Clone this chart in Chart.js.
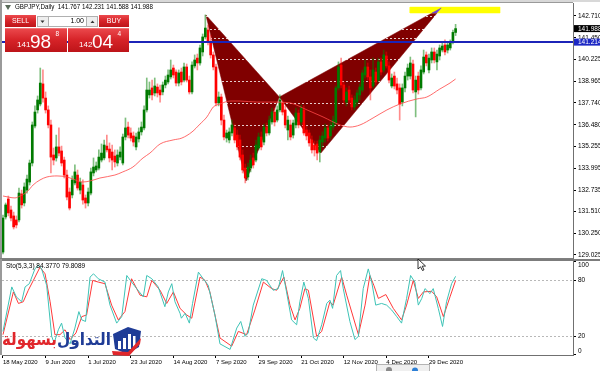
<!DOCTYPE html>
<html><head><meta charset="utf-8">
<script src="https://cdn.jsdelivr.net/npm/chart.js@4.4.1/dist/chart.umd.min.js"></script>
<style>
html,body{margin:0;padding:0;background:#fff;}
body{width:600px;height:371px;position:relative;overflow:hidden;}
canvas{position:absolute;left:0;}
#main{top:0;} #stoch{top:259px;}
</style></head><body>
<canvas id="main" width="600" height="259"></canvas>
<canvas id="stoch" width="600" height="112"></canvas>
<script>
// ---------------- DATA ----------------
const symbolTitle = 'GBPJPY,Daily';
const dateIdx = [0,16,32,48,64,80,96,112,128,144,160];
const dateLabels = ['18 May 2020','9 Jun 2020','1 Jul 2020','23 Jul 2020','14 Aug 2020','7 Sep 2020','29 Sep 2020','21 Oct 2020','12 Nov 2020','4 Dec 2020','29 Dec 2020'];
const priceTicks = [142.710,141.450,140.225,138.965,137.740,136.480,135.255,133.995,132.735,131.510,130.250,129.025];
const stochTicks = [0,20,80,100];
const stochLevels = [20,80];
const lineLevel = 141.214;
const askPrice = 142.044;

const opens = [
129.19,131.20,132.23,131.60,131.26,131.03,131.03,132.52,132.00,132.74,
133.20,134.29,136.41,137.33,137.67,138.82,138.01,137.33,136.47,134.75,
134.58,135.21,134.98,134.46,133.60,132.63,132.46,133.15,133.60,132.74,
133.03,132.29,132.00,132.57,133.72,133.89,134.00,134.46,134.58,135.26,
135.09,134.92,134.69,134.29,134.63,134.29,135.78,136.35,136.01,135.84,
135.21,135.67,136.07,136.30,137.33,138.19,138.59,138.30,138.64,138.47,
138.36,138.76,138.93,139.22,139.73,139.50,138.87,139.50,139.04,139.79,
139.04,138.36,139.85,140.30,140.02,140.65,141.51,141.91,141.22,140.48,
139.79,137.73,138.07,136.75,135.72,135.61,136.01,136.30,135.89,135.61,
134.75,134.00,133.49,134.00,134.58,134.46,135.15,135.78,135.49,136.35,
136.01,136.64,137.21,136.75,137.33,137.73,137.33,136.18,136.47,135.89,
136.47,137.15,136.64,137.33,136.18,136.01,135.61,135.32,135.38,134.92,
135.49,135.72,136.30,135.84,136.35,136.58,138.59,139.90,138.76,137.78,
138.47,138.01,137.50,137.78,138.19,138.47,139.33,139.79,139.22,138.70,
139.50,139.04,140.08,139.62,140.42,139.85,138.70,139.27,138.82,138.59,
137.78,138.59,139.27,139.27,139.96,138.36,139.27,138.59,139.50,140.48,
139.62,140.19,140.65,140.08,140.42,140.76,141.05,140.76,140.88,141.22,
141.767];
const highs = [
131.31,132.00,132.40,131.83,131.48,131.26,132.86,132.74,133.15,133.60,
134.46,136.64,137.56,138.13,139.73,139.62,138.36,137.56,136.75,135.15,
135.89,136.30,135.26,134.63,133.89,132.86,133.55,134.18,133.89,133.43,
133.32,132.46,132.86,134.00,134.58,134.35,135.04,135.38,135.61,135.89,
135.44,135.32,135.04,135.04,135.21,135.95,136.87,136.64,136.30,136.07,
136.01,136.30,136.64,137.56,139.16,138.93,139.04,139.16,138.82,138.76,
138.93,139.27,139.62,140.19,139.90,139.62,139.62,139.73,140.02,139.96,
139.27,140.08,140.48,140.53,141.05,141.68,142.77,142.19,141.62,140.65,
139.96,138.36,138.24,137.04,136.18,136.30,136.75,136.52,136.18,135.89,
135.04,134.23,134.29,134.75,134.86,135.61,136.01,136.07,136.52,136.58,
136.98,137.44,137.44,137.56,138.19,137.90,137.56,136.98,136.75,136.75,
137.44,137.33,137.61,137.56,136.41,136.18,135.84,135.55,135.55,135.84,
136.07,136.52,136.47,136.64,136.98,138.70,140.08,140.30,138.93,138.59,
138.70,138.19,138.13,138.47,138.82,139.62,140.19,140.02,139.62,140.30,
139.73,140.30,140.30,140.76,140.65,140.08,139.39,139.50,139.16,138.82,
138.82,139.50,139.96,140.36,140.19,139.27,139.50,139.85,140.76,140.65,
140.53,140.88,140.88,140.76,141.05,141.22,141.34,141.16,141.34,141.91,
142.231];
const lows = [
129.08,131.08,131.26,130.97,130.51,130.57,130.91,131.71,131.83,132.57,
133.03,134.12,136.30,137.15,137.56,137.78,137.15,136.30,133.72,134.18,
134.40,134.69,134.12,133.43,132.17,131.60,132.29,133.03,132.74,132.52,
131.94,131.71,131.83,132.46,133.55,133.78,133.89,134.35,134.46,134.92,
134.35,133.89,134.06,134.12,134.46,134.18,135.61,135.72,135.55,135.26,
135.04,135.49,135.89,136.18,137.21,138.01,137.90,138.13,138.07,137.78,
138.19,138.59,138.82,139.10,139.16,138.70,138.70,138.76,138.93,138.93,
138.24,138.24,139.73,139.62,139.90,140.42,141.39,141.05,140.30,139.62,
137.56,137.56,136.47,135.61,135.49,135.44,135.84,135.44,135.04,134.46,
133.72,133.15,133.32,133.78,134.00,134.35,135.04,135.04,135.32,135.84,
135.89,136.52,136.41,136.64,137.21,137.04,136.30,135.61,135.61,135.72,
136.30,136.30,136.47,135.89,135.61,135.26,134.86,134.69,134.46,134.35,
135.21,135.49,135.55,135.67,136.18,136.47,138.47,138.59,137.67,137.56,
137.73,137.33,137.33,137.56,137.90,138.36,139.16,139.04,137.90,138.59,
138.76,138.93,139.33,139.50,139.73,138.87,138.59,138.53,138.24,136.75,
137.56,138.36,139.04,139.10,138.30,136.93,138.24,138.47,139.39,139.85,
139.45,140.02,140.02,139.62,140.19,140.65,140.48,140.59,140.76,141.11,
141.588];
const closes = [
131.14,131.89,131.43,131.14,130.63,130.74,132.57,131.89,132.92,133.37,
134.29,136.47,137.21,137.90,138.87,138.01,137.33,136.47,134.63,134.46,
135.21,134.86,134.29,133.60,132.34,131.71,133.32,133.78,132.86,133.20,
132.17,132.00,132.63,133.78,134.06,134.12,134.63,134.86,135.32,135.04,
134.58,134.46,134.35,134.75,134.92,135.78,136.30,135.89,135.72,135.49,
135.78,136.07,136.35,137.33,138.47,138.47,138.19,138.70,138.30,138.19,
138.76,139.04,139.33,139.62,139.33,138.87,139.45,138.93,139.79,139.04,
138.36,139.90,140.19,140.02,140.88,141.51,142.02,141.22,140.48,139.79,
137.73,138.07,136.75,135.78,136.01,136.07,136.47,135.61,135.21,134.63,
133.89,133.43,134.06,134.46,134.18,135.32,135.78,135.21,136.35,136.01,
136.75,137.21,136.64,137.33,137.90,137.21,136.47,136.75,135.78,136.58,
137.15,136.47,137.44,136.01,135.84,135.44,135.04,135.04,134.86,135.61,
135.84,136.30,135.72,136.41,136.75,138.59,139.79,138.76,137.90,138.36,
137.90,137.50,137.90,138.30,138.64,139.45,139.79,139.22,138.59,139.62,
138.93,140.08,139.50,140.48,139.85,139.04,139.16,138.70,138.47,137.67,
138.59,139.27,139.73,140.02,138.47,139.04,138.47,139.62,140.36,140.02,
140.30,140.65,140.19,140.53,140.88,140.99,140.65,141.05,141.22,141.77,
141.988];

// moving average (read at sample bars)
const maIdx = [0,4.5,6.4,9,11.3,13.9,16.5,20.3,24,26.3,29.7,32.7,36.4,42,45,48.8,52.6,55.2,59,63.9,67.2,71,74,76.6,79,81.5,85.3,89,95.4,101.4,107.8,114.2,120.2,126.6,130.3,134.1,139,144.2,149.1,155.5,159.2,164.1,167.9,170];
const maVal = [132.40,132.29,132.40,132.63,133.03,133.32,133.49,133.55,133.49,133.37,133.20,133.26,133.43,133.60,133.78,134.06,134.58,134.86,135.38,135.61,135.72,136.07,136.52,136.93,137.50,137.67,137.84,137.84,137.78,137.78,137.73,137.33,136.93,136.47,136.35,136.47,136.87,137.33,137.67,137.96,138.07,138.53,138.87,139.10];

// harmonic pattern X A B C D
const patternIdx = [76.2,91.3,103.8,119.4,164.6];
const patternPrice = [142.77,133.26,138.07,134.86,143.17];
const tipIdx = [161.1,162.9,164.6];
const tipPrice = [142.88,142.88,143.17];
const rectIdx = [152.9,186.7];
const rectPrice = [142.88,143.22];

// stochastic (5,3,3)
const kIdx = [0,3.3,5,7,8.3,9.9,12,13.3,14.5,16.4,18.3,19.2,20.8,22,23.3,25.2,27,28.5,29.6,31,32.7,34,35.8,38.3,40.2,42.7,44.6,46.5,48.3,50.2,52.7,54,55.9,58.3,60.8,62.1,63.4,64.6,66.5,67,68.4,70,71.2,73.4,75.2,77.1,79.6,81.5,85.3,87.8,89.3,90.9,92.1,94,97.2,99,101.5,103.4,105,106.5,108.4,110.3,111.5,113,114.7,116.6,117.8,119.7,121.6,122.8,123.8,125.3,126.8,127.8,130.3,132.2,133.5,135.3,137.2,138.5,140,142.2,144.1,146,147.9,149.7,151.6,153.1,154.7,156,157.3,158.5,160.4,161.6,163.5,165.1,166.6,168.5,170];
const kVal = [25.1,73,62.3,57,73,76.5,92.4,96.6,92.4,74.7,19.8,12.7,26.9,34,18,11.7,28.7,46.4,37.5,35.8,83.6,87.1,81.8,78.2,53.4,34,41,85.3,78.2,71.2,62.3,85.3,81.8,73,51.7,67.6,76.5,57,44.6,39.3,44.6,34,55.2,88.9,81.8,74.7,42.8,11.7,5.7,28.7,35.8,19.8,23.4,53.4,81.8,80,69.4,71.2,90.6,67.6,37.5,32.2,57,78.2,60.6,18,15.2,32.2,55.2,58.8,49.9,85.3,90.6,71.2,35.8,16.3,19.8,71.2,92.4,78.2,53.4,55.2,53.4,48.1,41,34,60.6,85.3,78.2,53.4,60.6,71.2,65.8,71.2,49.9,30.4,57,76.5,84.377];
const dIdx = [0,3.9,5.8,7.6,9.5,11.4,13.9,15.8,17.7,19.5,21.4,23.3,25.2,27.4,29.6,31.4,33.7,35.8,38.3,40.8,43.3,45.8,48.3,51.5,54,55.9,59,61.5,64,66.5,69,70.9,74,75.9,77.7,81.5,85.9,88.4,91.5,94.6,97.8,100.9,102.8,105.5,107.8,109.7,111.5,113.4,114.7,117.8,119.7,122.8,124,127.2,129.1,133.5,136,137.8,139.3,141,143.8,146.6,149.7,151.6,154.1,156,157.9,161,162.9,165.4,167.9,170];
const dVal = [21.6,67.6,55.2,57,69.4,80,94.2,87.1,57,21.6,21.6,26.9,16.3,23.4,41,42.8,80,78.2,76.5,53.4,37.5,46.4,81.8,64.1,62.3,80,69.4,55.2,67.6,49.9,42.8,39.3,83.6,80,67.6,18,9.2,25.1,21.6,48.1,78.2,71.2,69.4,83.6,53.4,37.5,49.9,71.2,69.4,19.8,25.1,57,53.4,83.6,64.1,21.6,53.4,85.3,74.7,60.6,64.8,49.9,37.5,53.4,80,60.6,67.6,68.3,62.3,41,62.3,79.8089];

// ---------------- BUILD ----------------
const FONT = '"Liberation Sans", Arial, sans-serif';
Chart.defaults.font.family = FONT;
Chart.defaults.animation = false;
const X_MIN = -0.375, X_MAX = 214.1;

const pt = (x, y) => ({x, y});
const bullBody = [], bearBody = [], bullWick = [], bearWick = [];
closes.forEach((c, i) => {
  const up = c >= opens[i];
  (up ? bullBody : bearBody).push({x: i, y: [opens[i], c]});
  (up ? bullWick : bearWick).push({x: i, y: [lows[i], highs[i]]});
});
const tri1 = [0,1,2,0].map(k => pt(patternIdx[k], patternPrice[k]));
const tri2 = [2,3,4,2].map(k => pt(patternIdx[k], patternPrice[k]));
const tip = [0,1,2,0].map(k => pt(tipIdx[k], tipPrice[k]));
const rect = [[0,0],[1,0],[1,1],[0,1],[0,0]].map(([a,b]) => pt(rectIdx[a], rectPrice[b]));
const maData = maIdx.map((x, k) => pt(x, maVal[k]));
const blueLine = [pt(X_MIN, lineLevel), pt(X_MAX, lineLevel)];
const bid = closes[closes.length - 1];

const shape = (data, color, order) => ({type: 'line', data, backgroundColor: color, borderColor: color,
  borderWidth: 0.5, fill: 'shape', pointRadius: 0, order, tension: 0});
const bars = (data, color, thick, order) => ({type: 'bar', data, backgroundColor: color, borderWidth: 0,
  barThickness: thick, grouped: false, minBarLength: 1, order});

function redGrad(ctx, y0, y1) {
  const g = ctx.createLinearGradient(0, y0, 0, y1);
  g.addColorStop(0, '#ec4a4e'); g.addColorStop(0.5, '#d62328'); g.addColorStop(1, '#bd1419');
  return g;
}

const mainDecor = {
  id: 'mainDecor',
  afterDatasetDraw(chart, args) {
    if (args.index !== 3) return;
    const {ctx, chartArea: a, scales: {y}} = chart;
    ctx.save();
    ctx.beginPath(); ctx.rect(a.left, a.top, a.right - a.left, a.bottom - a.top); ctx.clip();
    ctx.strokeStyle = 'rgba(255,255,255,0.8)'; ctx.lineWidth = 1; ctx.setLineDash([2, 2]);
    [...priceTicks, bid].forEach(v => {
      const py = Math.round(y.getPixelForValue(v)) + 0.5;
      ctx.beginPath(); ctx.moveTo(a.left, py); ctx.lineTo(a.right, py); ctx.stroke();
    });
    ctx.restore();
  },
  afterDraw(chart) {
    const {ctx, chartArea: a, scales: {y}} = chart;
    ctx.save();
    // window frame
    ctx.fillStyle = '#d8d8d8'; ctx.fillRect(0, 0, 600, 2);
    ctx.fillStyle = '#9a9a9a'; ctx.fillRect(0, 2, a.right, 1); ctx.fillRect(0, 0, 2, 259);
    ctx.fillStyle = '#808080'; ctx.fillRect(0, a.bottom, a.right, 1);
    // price boxes on axis
    const box = (v, bg) => {
      const py = y.getPixelForValue(v);
      ctx.fillStyle = bg; ctx.fillRect(a.right + 1, py - 3.5, 600 - a.right - 1, 7);
      ctx.fillStyle = '#fff'; ctx.font = '6.5px ' + FONT; ctx.textAlign = 'left'; ctx.textBaseline = 'middle';
      ctx.fillText(v.toFixed(3), a.right + 5, py + 0.3);
    };
    box(bid, '#000');
    box(lineLevel, '#1c28c4');
    // header
    ctx.fillStyle = '#5a6b5a';
    ctx.beginPath(); ctx.moveTo(5, 5); ctx.lineTo(11, 5); ctx.lineTo(8, 10); ctx.closePath(); ctx.fill();
    ctx.fillStyle = '#000'; ctx.font = '6.5px ' + FONT; ctx.textAlign = 'left'; ctx.textBaseline = 'middle';
    const hdr = symbolTitle + '  ' + [opens, highs, lows, closes].map(s => s[s.length - 1].toFixed(3)).join(' ');
    ctx.fillText(hdr, 15, 7.5, 138);
    // one-click trading panel
    ctx.fillStyle = redGrad(ctx, 15, 27); ctx.fillRect(5, 15, 31, 12); ctx.fillRect(99, 15, 30, 12);
    ctx.fillStyle = redGrad(ctx, 28, 52); ctx.fillRect(5, 28, 62, 24); ctx.fillRect(68, 28, 61, 24);
    ctx.fillStyle = 'rgba(255,255,255,0.25)'; ctx.fillRect(5, 28, 62, 1); ctx.fillRect(68, 28, 61, 1);
    ctx.fillStyle = '#eeeeee'; ctx.fillRect(37, 16, 11, 11); ctx.fillRect(87, 16, 11, 11);
    ctx.fillStyle = '#fff'; ctx.fillRect(48, 16, 39, 11);
    ctx.strokeStyle = '#b0b0b0'; ctx.lineWidth = 1; ctx.strokeRect(37.5, 16.5, 60, 10);
    ctx.beginPath(); ctx.moveTo(48.5, 16.5); ctx.lineTo(48.5, 26.5); ctx.moveTo(86.5, 16.5); ctx.lineTo(86.5, 26.5); ctx.stroke();
    ctx.fillStyle = '#333';
    ctx.beginPath(); ctx.moveTo(40.5, 20.5); ctx.lineTo(44.5, 20.5); ctx.lineTo(42.5, 23); ctx.closePath(); ctx.fill();
    ctx.beginPath(); ctx.moveTo(90.5, 23); ctx.lineTo(94.5, 23); ctx.lineTo(92.5, 20.5); ctx.closePath(); ctx.fill();
    ctx.font = '7px ' + FONT; ctx.textAlign = 'center'; ctx.fillStyle = '#fff';
    ctx.fillText('SELL', 20.5, 21.5); ctx.fillText('BUY', 114, 21.5);
    ctx.fillStyle = '#000'; ctx.textAlign = 'right'; ctx.fillText('1.00', 84, 21.5);
    const bigPrice = (v, x0) => {
      const s = v.toFixed(3); const [ip, dp] = s.split('.');
      ctx.fillStyle = '#fff'; ctx.textAlign = 'left'; ctx.textBaseline = 'alphabetic';
      ctx.font = '8px ' + FONT; ctx.fillText(ip, x0, 47);
      ctx.font = '19px ' + FONT; ctx.fillText(dp.slice(0, 2), x0 + 13, 48);
      ctx.font = '6.5px ' + FONT; ctx.fillText(dp.slice(2), x0 + 38.5, 36);
    };
    bigPrice(bid, 17);
    bigPrice(askPrice, 79);
    ctx.restore();
  }
};

new Chart(document.getElementById('main'), {
  type: 'bar',
  data: {datasets: [
    shape(tri1, '#800000', 20),
    shape(tri2, '#800000', 19),
    shape(rect, '#ffff00', 18),
    shape(tip, '#6a40d8', 17),
    bars(bullWick, 'rgba(0,128,0,0.5)', 1, 10),
    bars(bearWick, 'rgba(255,0,0,0.45)', 1, 10),
    bars(bullBody, '#007a00', 2, 9),
    bars(bearBody, '#ff0000', 2, 9),
    {type: 'line', data: maData, borderColor: 'rgba(255,70,70,0.8)', borderWidth: 1, pointRadius: 0,
     fill: false, cubicInterpolationMode: 'monotone', order: 5},
    {type: 'line', data: blueLine, borderColor: '#1c24b8', borderWidth: 2, pointRadius: 0, fill: false, order: 1}
  ]},
  options: {
    responsive: false, maintainAspectRatio: false, devicePixelRatio: 1, events: [],
    layout: {padding: {left: 2, top: 3, right: 0, bottom: 1}},
    plugins: {legend: {display: false}, tooltip: {enabled: false}},
    scales: {
      x: {type: 'linear', min: X_MIN, max: X_MAX, display: false, offset: false, grid: {offset: false}, bounds: 'data'},
      y: {type: 'linear', position: 'right', min: 128.85, max: 143.454, bounds: 'data', beginAtZero: false,
        afterBuildTicks: s => { s.ticks = priceTicks.map(v => ({value: v})); },
        afterFit: s => { s.width = 27; s.paddingTop = 0; s.paddingBottom = 0; },
        ticks: {autoSkip: false, padding: 2, color: '#000', font: {size: 6.5}, callback: v => Number(v).toFixed(3)},
        grid: {drawOnChartArea: false, drawTicks: true, tickLength: 3, color: '#000'},
        border: {display: true, color: '#707070'}}
    }
  },
  plugins: [mainDecor]
});

// ---------------- STOCHASTIC ----------------
const stochDecor = {
  id: 'stochDecor',
  beforeDatasetsDraw(chart) {
    const {ctx, chartArea: a, scales: {y}} = chart;
    ctx.save(); ctx.strokeStyle = '#b8b8b8'; ctx.lineWidth = 1; ctx.setLineDash([2, 2]);
    stochLevels.forEach(v => {
      const py = Math.round(y.getPixelForValue(v)) + 0.5;
      ctx.beginPath(); ctx.moveTo(a.left, py); ctx.lineTo(a.right, py); ctx.stroke();
    });
    ctx.restore();
  },
  afterDraw(chart) {
    const {ctx, chartArea: a, scales: {y}} = chart;
    ctx.save();
    ctx.fillStyle = '#7c7c7c'; ctx.fillRect(0, 0, 600, 2);
    ctx.fillStyle = '#9a9a9a'; ctx.fillRect(0, 0, 2, a.bottom);
    ctx.fillStyle = '#000'; ctx.font = '6.5px ' + FONT; ctx.textAlign = 'left'; ctx.textBaseline = 'middle';
    ctx.fillText('Sto(5,3,3) ' + kVal[kVal.length - 1].toFixed(4) + ' ' + dVal[dVal.length - 1].toFixed(4), 6, 7);
    stochTicks.forEach(v => {
      const py = Math.min(Math.max(y.getPixelForValue(v), a.top + 4.5), a.bottom - 3.5);
      ctx.fillText(String(v), a.right + 5, py);
    });
    // logo
    const Y = -259;
    ctx.fillStyle = '#1f3c96';
    ctx.beginPath(); ctx.moveTo(113, 334 + Y); ctx.lineTo(128, 327 + Y); ctx.lineTo(141, 331 + Y);
    ctx.lineTo(139, 347 + Y); ctx.lineTo(127, 354 + Y); ctx.lineTo(115, 349 + Y); ctx.closePath(); ctx.fill();
    ctx.fillStyle = '#fff';
    ctx.fillRect(118, 341 + Y, 3, 8); ctx.fillRect(123, 338 + Y, 3, 11); ctx.fillRect(128, 334 + Y, 3, 15); ctx.fillRect(133, 336 + Y, 2.5, 11);
    ctx.fillStyle = '#e0262b';
    ctx.beginPath(); ctx.moveTo(112, 351 + Y); ctx.lineTo(128, 352 + Y); ctx.lineTo(141, 338 + Y);
    ctx.lineTo(140, 344 + Y); ctx.lineTo(129, 356 + Y); ctx.lineTo(113, 355 + Y); ctx.closePath(); ctx.fill();
    ctx.font = 'bold 17px "DejaVu Sans", sans-serif'; ctx.textAlign = 'right'; ctx.textBaseline = 'alphabetic';
    ctx.fillStyle = '#1f3c96'; ctx.fillText('التداول', 111, 345 + Y, 54);
    ctx.fillStyle = '#e0262b'; ctx.fillText('بسهولة', 57, 345 + Y, 55);
    // toolbar overlay
    ctx.fillStyle = '#efefef'; ctx.fillRect(376, 364 + Y, 54, 8);
    ctx.strokeStyle = '#b4b4b4'; ctx.strokeRect(376.5, 364.5 + Y, 53, 8);
    ctx.fillStyle = '#8a8a8a'; ctx.beginPath(); ctx.arc(389, 370 + Y, 3, 0, Math.PI * 2); ctx.fill();
    ctx.fillStyle = '#2c7fd6'; ctx.beginPath(); ctx.arc(415, 370.5 + Y, 3, 0, Math.PI * 2); ctx.fill();
    // mouse cursor
    ctx.fillStyle = '#fff'; ctx.strokeStyle = '#000'; ctx.lineWidth = 0.8;
    ctx.beginPath(); ctx.moveTo(418, 0); ctx.lineTo(418, 10); ctx.lineTo(420.5, 7.8); ctx.lineTo(422.5, 11.5);
    ctx.lineTo(424, 10.8); ctx.lineTo(422.2, 7.2); ctx.lineTo(425.5, 7); ctx.closePath(); ctx.fill(); ctx.stroke();
    ctx.restore();
  }
};

new Chart(document.getElementById('stoch'), {
  type: 'line',
  data: {datasets: [
    {data: kIdx.map((x, k) => pt(x, kVal[k])), borderColor: '#3ec3b6', borderWidth: 1, pointRadius: 0, fill: false, tension: 0},
    {data: dIdx.map((x, k) => pt(x, dVal[k])), borderColor: '#ff3838', borderWidth: 1, pointRadius: 0, fill: false, tension: 0}
  ]},
  options: {
    responsive: false, maintainAspectRatio: false, devicePixelRatio: 1, events: [],
    layout: {padding: {left: 2, top: 2, right: 0, bottom: 2}},
    plugins: {legend: {display: false}, tooltip: {enabled: false}},
    scales: {
      x: {type: 'linear', min: X_MIN, max: X_MAX, offset: false, bounds: 'data',
        afterBuildTicks: s => { s.ticks = dateIdx.map(v => ({value: v})); },
        afterFit: s => { s.height = 14; s.paddingLeft = 0; s.paddingRight = 0; },
        ticks: {autoSkip: false, align: 'start', maxRotation: 0, minRotation: 0, padding: 1, color: '#000',
          font: {size: 6}, callback: v => dateLabels[dateIdx.indexOf(v)]},
        grid: {drawOnChartArea: false, drawTicks: true, tickLength: 3, color: '#000'},
        border: {display: true, color: '#707070'}},
      y: {type: 'linear', position: 'right', min: -0.3, max: 100.9, bounds: 'data',
        afterBuildTicks: s => { s.ticks = stochTicks.map(v => ({value: v})); },
        afterFit: s => { s.width = 27; s.paddingTop = 0; s.paddingBottom = 0; },
        ticks: {display: false},
        grid: {drawOnChartArea: false, drawTicks: true, tickLength: 3, color: '#000'},
        border: {display: true, color: '#707070'}}
    }
  },
  plugins: [stochDecor]
});
</script>
</body></html>
